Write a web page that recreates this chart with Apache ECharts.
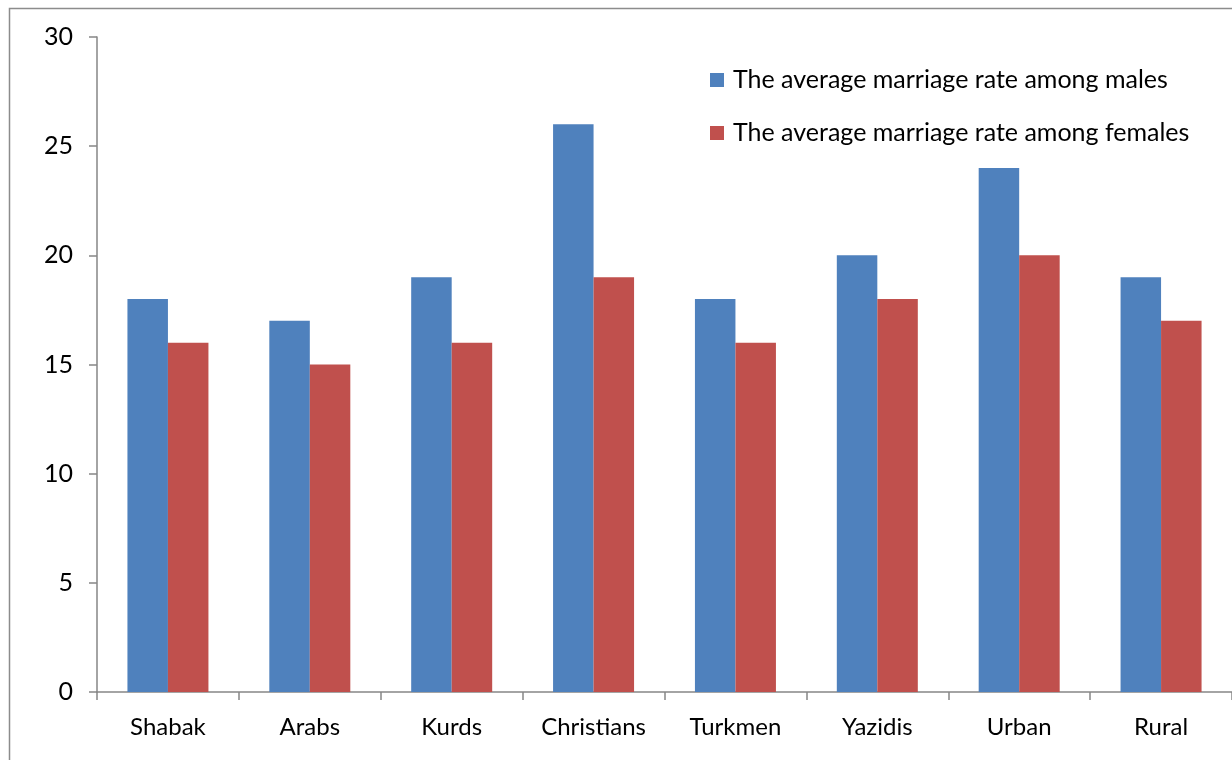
<!DOCTYPE html>
<html><head><meta charset="utf-8">
<script src="https://cdn.jsdelivr.net/npm/echarts@6/dist/echarts.min.js"></script>
<style>html,body{margin:0;padding:0;background:#fff}#c{width:1232px;height:760px}</style>
</head><body><div id="c"></div>
<script>
const categories = ['Shabak','Arabs','Kurds','Christians','Turkmen','Yazidis','Urban','Rural'];
const males = [18,17,19,26,18,20,24,19];
const females = [16,15,16,19,16,18,20,17];
const seriesNames = ['The average marriage rate among males','The average marriage rate among females'];
const yTicks = {min:0, max:30, interval:5};

const font = 'Lato, "Open Sans", sans-serif';
const axisColor = '#868686';
const chart = echarts.init(document.getElementById('c'));
chart.setOption({
  animation:false,
  graphic:[{type:'rect',shape:{x:9.5,y:8.5,width:1300,height:800},style:{fill:'none',stroke:'#8c8c8c',lineWidth:1.5},silent:true}],
  legend:{orient:'vertical',left:710,top:66,padding:0,itemWidth:14,itemHeight:14,itemGap:25,icon:'rect',
    textStyle:{fontFamily:font,fontSize:25,lineHeight:28,color:'#000',padding:[0,0,0,4]},data:seriesNames},
  grid:{left:97,top:37,right:-2,bottom:68,containLabel:false},
  xAxis:{type:'category',data:categories,boundaryGap:true,
    axisLine:{lineStyle:{color:axisColor,width:1.5}},
    axisTick:{show:true,interval:0,alignWithLabel:false,length:8,lineStyle:{color:axisColor,width:1.5}},
    axisLabel:{interval:0,hideOverlap:false,fontFamily:font,fontSize:24,color:'#000',margin:23}},
  yAxis:{type:'value',min:yTicks.min,max:yTicks.max,interval:yTicks.interval,
    splitLine:{show:false},
    axisLine:{show:true,lineStyle:{color:axisColor,width:1.5}},
    axisTick:{show:true,length:8,lineStyle:{color:axisColor,width:1.5}},
    axisLabel:{fontFamily:font,fontSize:25,color:'#000',margin:24}},
  series:[
    {name:seriesNames[0],type:'bar',data:males,barWidth:40.5,barGap:'0%',itemStyle:{color:'#4F81BD'}},
    {name:seriesNames[1],type:'bar',data:females,barWidth:40.5,barGap:'0%',itemStyle:{color:'#C0504D'}}
  ]
});
</script></body></html>
